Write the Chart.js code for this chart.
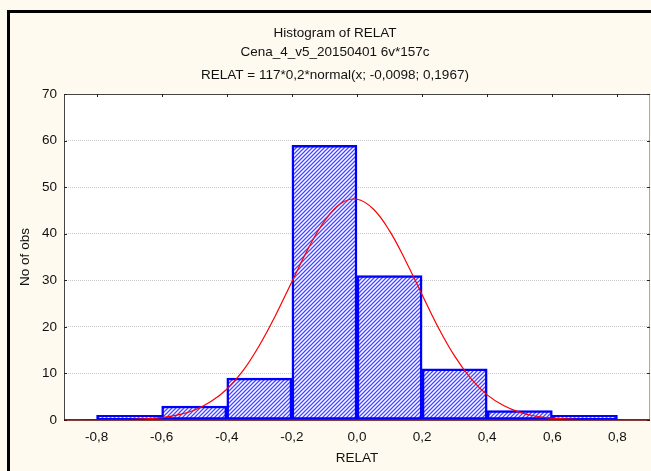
<!DOCTYPE html>
<html>
<head>
<meta charset="utf-8">
<script src="https://cdn.jsdelivr.net/npm/chart.js@4/dist/chart.umd.min.js"></script>
<style>
  html, body { margin: 0; padding: 0; background: #fff; }
  #wrap { position: relative; width: 651px; height: 471px; }
</style>
</head>
<body>
<div id="wrap"><canvas id="c" width="651" height="471"></canvas></div>
<script>
// histogram bins (centers) and counts
const binCenters = [-0.7, -0.5, -0.3, -0.1, 0.1, 0.3, 0.5, 0.7];
const binCounts = [1, 3, 9, 59, 31, 11, 2, 1];

// fitted normal curve
const curveX = [-0.9, -0.85, -0.8, -0.75, -0.7, -0.65, -0.6, -0.55, -0.5, -0.45, -0.4, -0.35,
  -0.3, -0.25, -0.2, -0.15, -0.1, -0.05, 0, 0.05, 0.1, 0.15, 0.2, 0.25, 0.3, 0.35, 0.4,
  0.45, 0.5, 0.55, 0.6, 0.65, 0.7, 0.75, 0.8, 0.85, 0.9];
const curveY = [0, 0, 0.02, 0.04, 0.1, 0.24, 0.5, 1.1, 2.1, 3.9, 6.6, 10.6,
  16, 22.5, 29.7, 36.8, 42.7, 46.5, 47.4, 45.3, 40.6, 34.1, 26.9, 19.8, 13.7, 8.9, 5.4,
  3.1, 1.65, 0.8, 0.4, 0.17, 0.07, 0.03, 0.01, 0, 0];

const xTicks = [-0.8, -0.6, -0.4, -0.2, 0, 0.2, 0.4, 0.6, 0.8];
const yTicks = [0, 10, 20, 30, 40, 50, 60, 70];

const titleLines = ["Histogram of RELAT", "Cena_4_v5_20150401 6v*157c", "RELAT = 117*0,2*normal(x; -0,0098; 0,1967)"];

const FONT = "'Liberation Sans', Arial, sans-serif";
const FS = 13.5;

// diagonal "///" hatch
function hatch() {
  const p = document.createElement("canvas");
  p.width = 4; p.height = 4;
  const g = p.getContext("2d");
  g.fillStyle = "#ffffff";
  g.fillRect(0, 0, 4, 4);
  g.strokeStyle = "#4848ff";
  g.lineWidth = 1.3;
  g.beginPath();
  g.moveTo(-1, 5); g.lineTo(5, -1);
  g.moveTo(-1, 1); g.lineTo(1, -1);
  g.moveTo(3, 5); g.lineTo(5, 3);
  g.stroke();
  return g.createPattern(p, "repeat");
}

const fmt = (v) => v.toFixed(1).replace(".", ",");

const frame = {
  id: "frame",
  beforeDraw(ch) {
    const ctx = ch.ctx, a = ch.chartArea;
    ctx.save();
    ctx.fillStyle = "#fffaef";
    ctx.fillRect(0, 0, ch.width, ch.height);
    ctx.fillStyle = "#ffffff";
    ctx.fillRect(a.left, a.top, a.right - a.left, a.bottom - a.top);
    ctx.fillStyle = "#000";
    ctx.fillRect(7, 10, ch.width - 7, 3);
    ctx.fillRect(7, 10, 3, ch.height - 10);
    ctx.fillStyle = "#111";
    ctx.font = FS + "px " + FONT;
    ctx.textAlign = "center";
    ctx.textBaseline = "middle";
    ctx.fillText(titleLines[0], 335, 33);
    ctx.fillText(titleLines[1], 335, 52);
    ctx.fillText(titleLines[2], 335, 75);
    ctx.restore();
  },
  afterDraw(ch) {
    const ctx = ch.ctx, a = ch.chartArea;
    const xs = ch.scales.x, ys = ch.scales.y;
    ctx.save();
    ctx.strokeStyle = "#444";
    ctx.lineWidth = 1;
    ctx.beginPath();
    ctx.moveTo(a.left + 0.5, a.top); ctx.lineTo(a.left + 0.5, a.bottom);
    ctx.moveTo(a.left, a.top + 0.5); ctx.lineTo(a.right, a.top + 0.5);
    ctx.stroke();
    ctx.strokeStyle = "#aaa";
    ctx.beginPath();
    ctx.moveTo(a.right - 0.5, a.top); ctx.lineTo(a.right - 0.5, a.bottom);
    ctx.stroke();
    ctx.strokeStyle = "#222";
    ctx.beginPath();
    xTicks.forEach((v) => {
      const px = Math.round(xs.getPixelForValue(v)) + 0.5;
      ctx.moveTo(px, a.top); ctx.lineTo(px, a.top + 3);
    });
    yTicks.forEach((v) => {
      const py = Math.round(ys.getPixelForValue(v)) + 0.5;
      ctx.moveTo(a.left, py); ctx.lineTo(a.left + 3, py);
      ctx.moveTo(a.right, py); ctx.lineTo(a.right - 3, py);
    });
    ctx.stroke();
    ctx.strokeStyle = "#5a0000";
    ctx.lineWidth = 1.5;
    ctx.beginPath();
    ctx.moveTo(a.left, a.bottom); ctx.lineTo(a.right, a.bottom);
    ctx.stroke();
    ctx.restore();
  }
};

new Chart(document.getElementById("c"), {
  type: "bar",
  data: {
    datasets: [
      {
        type: "line",
        data: curveX.map((x, i) => ({ x, y: curveY[i] })),
        borderColor: "#ff0000",
        borderWidth: 1.2,
        pointRadius: 0,
        tension: 0.4,
        fill: false,
        order: 0
      },
      {
        data: binCenters.map((x, i) => ({ x, y: binCounts[i] })),
        backgroundColor: hatch(),
        borderColor: "#0000ff",
        borderWidth: 2.5,
        borderSkipped: false,
        barPercentage: 1,
        categoryPercentage: 1,
        order: 1
      }
    ]
  },
  options: {
    responsive: false,
    animation: false,
    layout: { padding: { top: 94, left: 8, right: 1, bottom: 0 } },
    plugins: { legend: { display: false }, tooltip: { enabled: false } },
    scales: {
      x: {
        type: "linear",
        offset: false,
        min: -0.9,
        max: 0.9,
        afterBuildTicks: (s) => { s.ticks = xTicks.map((v) => ({ value: v })); },
        afterFit: (s) => { s.height = 51; },
        grid: { display: false, drawTicks: false },
        border: { display: false },
        ticks: { padding: 9, color: "#111", font: { family: FONT, size: FS }, callback: (v) => fmt(v), maxRotation: 0 },
        title: { display: true, text: "RELAT", color: "#111", font: { family: FONT, size: FS }, padding: { top: 0, bottom: 5 } }
      },
      y: {
        min: 0,
        max: 70,
        afterBuildTicks: (s) => { s.ticks = yTicks.map((v) => ({ value: v })); },
        afterFit: (s) => { s.width = 56; },
        grid: {
          drawTicks: false,
          color: (c) => (c.tick.value === 0 || c.tick.value === 70 ? "rgba(0,0,0,0)" : "#c8c8c8"),
          lineWidth: 1
        },
        border: { display: false, dash: [1, 1] },
        ticks: { padding: 7, color: "#111", font: { family: FONT, size: FS } },
        title: { display: true, text: "No of obs", color: "#111", font: { family: FONT, size: FS }, padding: { top: 9, bottom: 0 } }
      }
    }
  },
  plugins: [frame]
});
</script>
</body>
</html>
